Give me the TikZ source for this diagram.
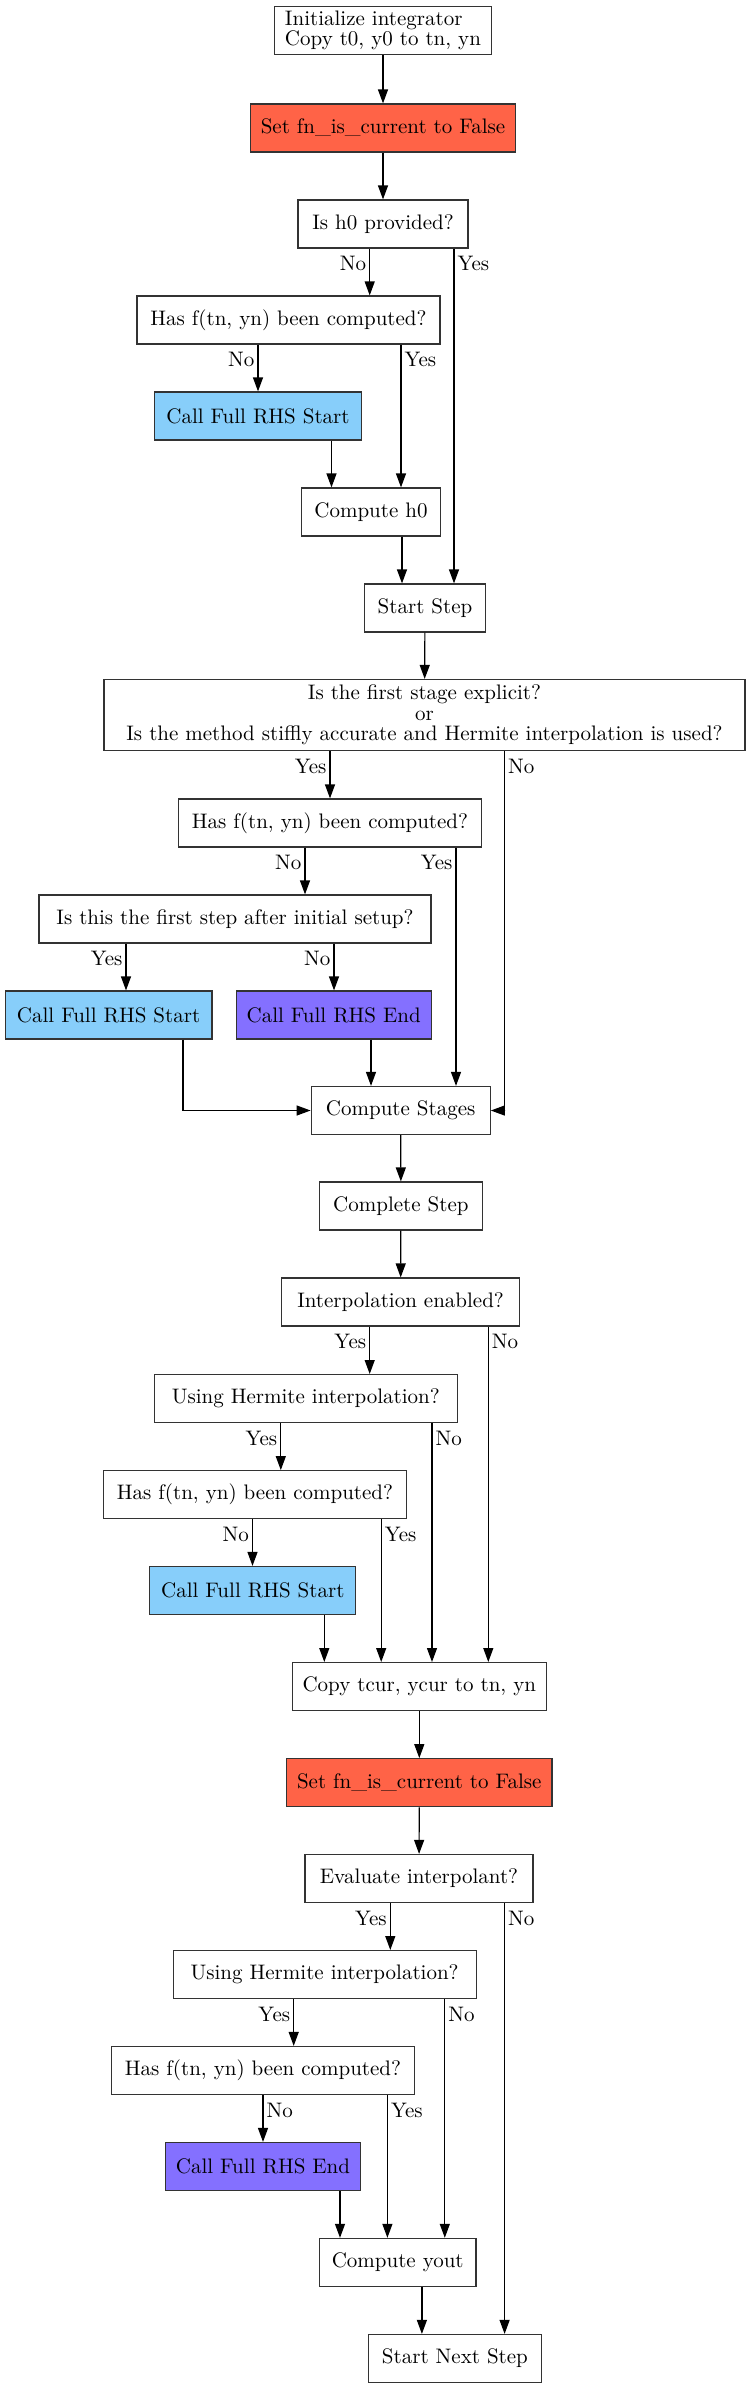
\documentclass[tikz,border=0pt]{standalone}
\usepackage{tikz}
\usetikzlibrary{arrows.meta, positioning, calc}
\definecolor{tomato}{HTML}{FF6347}
\definecolor{skyblue}{HTML}{87CEFA}
\definecolor{slateblue}{HTML}{8470FF}
\begin{document}
\begin{tikzpicture}[
	x=0.5pt, y=-0.5pt,
	every node/.style={font=\fontsize{10.5}{10.2}\selectfont},
	box/.style={draw=black!80, line width=0.6pt, rectangle, minimum height=24pt, inner sep=2pt, align=center},
	start/.style={box, fill=skyblue},
	finish/.style={box, fill=slateblue},
	reset/.style={box, fill=tomato},
	arrow/.style={-{Triangle[length=7pt, width=5pt]}, line width=0.6pt},
	lbl/.style={pos=0, inner sep=1.5pt, yshift=-2pt}
	]
	\useasboundingbox (0,0) rectangle (750,2388);
	
	% === SETUP ===
	\node[box, minimum width=108.5pt, align=left] (init) at (383,30.5) {Initialize integrator\\Copy t0, y0 to tn, yn};
	\node[reset, minimum width=132.5pt] (set1) at (383,128) {Set fn\_is\_current to False};
	\node[box, minimum width=85pt] (h0q) at (383,224) {Is h0 provided?};
	\node[box, minimum width=151.5pt] (has1) at (288.5,320) {Has f(tn, yn) been computed?};
	\node[start, minimum width=103.5pt] (rhs1) at (258,416) {Call Full RHS Start};
	\node[box, minimum width=69.5pt] (ch0) at (371,512) {Compute h0};
	\node[box, minimum width=60.75pt] (step) at (425,608) {Start Step};
	
	% === FIRST STAGE ===
	\node[box, minimum width=320.5pt, minimum height=35.5pt] (firstq) at (424.5,715) {Is the first stage explicit?\\or\\Is the method stiffly accurate and Hermite interpolation is used?};
	\node[box, minimum width=151.5pt] (has2) at (330,823) {Has f(tn, yn) been computed?};
	\node[box, minimum width=196pt] (first) at (235,919) {Is this the first step after initial setup?};
	\node[start, minimum width=103.3pt] (rhs2) at (108.6,1015) {Call Full RHS Start};
	\node[finish, minimum width=97.5pt] (rhsend2) at (333.7,1015) {Call Full RHS End};
	\node[box, minimum width=89.5pt] (stages) at (400.7,1110.5) {Compute Stages};
	\node[box, minimum width=81.3pt] (complete) at (400.9,1206) {Complete Step};
	
	% === INTERPOLATION ===
	\node[box, minimum width=118.8pt] (interp) at (400.6,1302) {Interpolation enabled?};
	\node[box, minimum width=151.4pt] (herm1) at (305.8,1398.6) {Using Hermite interpolation?};
	\node[box, minimum width=151.4pt] (has3) at (255,1494.7) {Has f(tn, yn) been computed?};
	\node[start, minimum width=103pt] (rhs3) at (252.8,1590.5) {Call Full RHS Start};
	\node[box, minimum width=127pt] (copy) at (419.3,1686.6) {Copy tcur, ycur to tn, yn};
	\node[reset, minimum width=132.7pt] (set2) at (419.3,1782.7) {Set fn\_is\_current to False};
	
	% === OUTPUT ===
	\node[box, minimum width=114pt] (evalq) at (419,1878.5) {Evaluate interpolant?};
	\node[box, minimum width=151.5pt] (herm2) at (324.6,1974.6) {Using Hermite interpolation?};
	\node[box, minimum width=151.5pt] (has4) at (263,2070.5) {Has f(tn, yn) been computed?};
	\node[finish, minimum width=97.5pt] (rhsend4) at (263,2166.5) {Call Full RHS End};
	\node[box, minimum width=78.2pt] (yout) at (397.7,2262.4) {Compute yout};
	\node[box, minimum width=86.5pt] (next) at (454.9,2358.5) {Start Next Step};
	
	% === CONNECTORS ===
	\draw[arrow] (init) -- (set1);
	\draw[arrow] (set1) -- (h0q);
	\draw[arrow] ([xshift=-6.65pt]h0q.south) -- node[lbl, anchor=north east] {No} ([xshift=-6.65pt]h0q.south |- has1.north);
	\draw[arrow] ([xshift=35.5pt]h0q.south) -- node[lbl, anchor=north west] {Yes} ([xshift=35.5pt]h0q.south |- step.north);
	\draw[arrow] ([xshift=-15.25pt]has1.south) -- node[lbl, anchor=north east] {No} ([xshift=-15.25pt]has1.south |- rhs1.north);
	\draw[arrow] ([xshift=56.25pt]has1.south) -- node[lbl, anchor=north west] {Yes} ([xshift=56.25pt]has1.south |- ch0.north);
	\draw[arrow] ([xshift=36.75pt]rhs1.south) -- ([xshift=36.75pt]rhs1.south |- ch0.north);
	\draw[arrow] ([xshift=15.5pt]ch0.south) -- ([xshift=15.5pt]ch0.south |- step.north);
	\draw[arrow] (step) -- (firstq);
	
	\draw[arrow] ([xshift=-47.25pt]firstq.south) -- node[lbl, anchor=north east] {Yes} ([xshift=-47.25pt]firstq.south |- has2.north);
	\draw[arrow] ([xshift=40pt]firstq.south) |- node[lbl, anchor=north west] {No} (stages.east);
	\draw[arrow] ([xshift=-12.5pt]has2.south) -- node[lbl, anchor=north east] {No} ([xshift=-12.5pt]has2.south |- first.north);
	\draw[arrow] ([xshift=63pt]has2.south) -- node[lbl, anchor=north east] {Yes} ([xshift=63pt]has2.south |- stages.north);
	\draw[arrow] ([xshift=-54.5pt]first.south) -- node[lbl, anchor=north east] {Yes} ([xshift=-54.5pt]first.south |- rhs2.north);
	\draw[arrow] ([xshift=49.5pt]first.south) -- node[lbl, anchor=north east] {No} ([xshift=49.5pt]first.south |- rhsend2.north);
	\draw[arrow] ([xshift=37.2pt]rhs2.south) |- (stages.west);
	\draw[arrow] ([xshift=18.65pt]rhsend2.south) -- ([xshift=18.65pt]rhsend2.south |- stages.north);
	\draw[arrow] (stages) -- (complete);
	\draw[arrow] (complete) -- (interp);
	
	\draw[arrow] ([xshift=-15.45pt]interp.south) -- node[lbl, anchor=north east] {Yes} ([xshift=-15.45pt]interp.south |- herm1.north);
	\draw[arrow] ([xshift=43.85pt]interp.south) -- node[lbl, anchor=north west] {No} ([xshift=43.85pt]interp.south |- copy.north);
	\draw[arrow] ([xshift=-12.5pt]herm1.south) -- node[lbl, anchor=north east] {Yes} ([xshift=-12.5pt]herm1.south |- has3.north);
	\draw[arrow] ([xshift=63.1pt]herm1.south) -- node[lbl, anchor=north west] {No} ([xshift=63.1pt]herm1.south |- copy.north);
	\draw[arrow] ([xshift=-1.25pt]has3.south) -- node[lbl, anchor=north east] {No} ([xshift=-1.25pt]has3.south |- rhs3.north);
	\draw[arrow] ([xshift=63.1pt]has3.south) -- node[lbl, anchor=north west] {Yes} ([xshift=63.1pt]has3.south |- copy.north);
	\draw[arrow] ([xshift=35.75pt]rhs3.south) -- ([xshift=35.75pt]rhs3.south |- copy.north);
	\draw[arrow] (copy) -- (set2);
	\draw[arrow] (set2) -- (evalq);
	
	\draw[arrow] ([xshift=-14.35pt]evalq.south) -- node[lbl, anchor=north east] {Yes} ([xshift=-14.35pt]evalq.south |- herm2.north);
	\draw[arrow] ([xshift=42.8pt]evalq.south) -- node[lbl, anchor=north west] {No} ([xshift=42.8pt]evalq.south |- next.north);
	\draw[arrow] ([xshift=-15.45pt]herm2.south) -- node[lbl, anchor=north east] {Yes} ([xshift=-15.45pt]herm2.south |- has4.north);
	\draw[arrow] ([xshift=60.1pt]herm2.south) -- node[lbl, anchor=north west] {No} ([xshift=60.1pt]herm2.south |- yout.north);
	\draw[arrow] (has4.south) -- node[lbl, anchor=north west] {No} (rhsend4.north);
	\draw[arrow] ([xshift=62.2pt]has4.south) -- node[lbl, anchor=north west] {Yes} ([xshift=62.2pt]has4.south |- yout.north);
	\draw[arrow] ([xshift=38.5pt]rhsend4.south) -- ([xshift=38.5pt]rhsend4.south |- yout.north);
	\draw[arrow] ([xshift=12.1pt]yout.south) -- ([xshift=12.1pt]yout.south |- next.north);
	
\end{tikzpicture}
\end{document}
